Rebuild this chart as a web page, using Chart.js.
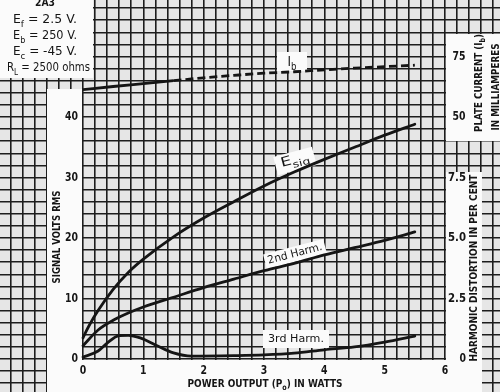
<!DOCTYPE html>
<html><head><meta charset="utf-8">
<script src="https://cdn.jsdelivr.net/npm/chart.js@4.4.0/dist/chart.umd.min.js"></script>
<style>html,body{margin:0;padding:0;background:#fff;overflow:hidden}canvas{display:block}</style>
</head><body>
<canvas id="c" width="500" height="392"></canvas>
<script>
// ---- data ----
const esigW     = [0, 0.1, 0.25, 0.5, 0.75, 1, 1.5, 2, 2.5, 3, 3.5, 4, 4.5, 5, 5.5];
const esigVolts = [3.5, 5.5, 8, 11.5, 14.3, 16.5, 20.2, 23.3, 26, 28.6, 30.9, 33, 35, 37, 38.8];
const harm2W    = [0, 0.25, 0.5, 0.75, 1, 1.5, 2, 2.5, 3, 3.5, 4, 4.5, 5, 5.5];
const harm2Pct  = [0.55, 1.2, 1.6, 1.9, 2.15, 2.55, 2.95, 3.3, 3.65, 3.95, 4.3, 4.6, 4.9, 5.25];
const harm3W    = [0, 0.25, 0.4, 0.6, 0.75, 0.95, 1.2, 1.5, 1.8, 2.5, 3, 3.5, 4, 4.5, 5, 5.5];
const harm3Pct  = [0.08, 0.33, 0.66, 0.97, 0.98, 0.87, 0.58, 0.25, 0.12, 0.14, 0.17, 0.24, 0.38, 0.5, 0.7, 0.95];
const ibW       = [0, 0.5, 1, 1.5, 2, 2.5, 3, 3.5, 4, 4.5, 5, 5.5];
const ibMa      = [61.3, 62.6, 63.8, 65.0, 66.2, 67.2, 68.1, 68.7, 69.5, 70.2, 70.8, 71.4];
const xTickVals    = [0, 1, 2, 3, 4, 5, 6];
const voltTickVals = [0, 10, 20, 30, 40];
const distTickVals = [0, 2.5, 5, 7.5];
const distTickText = ['0', '2.5', '5.0', '7.5'];
const ibTickVals   = [50, 75];
const specLines = [
  [['E'], ['f', 1], [' = 2.5 V.']],
  [['E'], ['b', 1], [' = 250 V.']],
  [['E'], ['c', 1], [' = -45 V.']],
  [['R'], ['L', 1], [' = 2500 ohms']]
];

// ---- scale ranges (all axes share the same pixel grid) ----
const X_MIN = -1.3758, X_MAX = 6.912;
const V_MIN = -5.455, V_MAX = 59.34;
const D_MIN = V_MIN / 4, D_MAX = V_MAX / 4;
const I_MIN = 50 + (V_MIN - 40) * 2.5, I_MAX = 50 + (V_MAX - 40) * 2.5;

function steps(a, b, s) { const out = []; for (let v = a; v <= b + 1e-9; v += s) out.push(Math.round(v * 1000) / 1000); return out; }
function pts(xs, ys) { return xs.map((x, i) => ({ x: x, y: ys[i] })); }

const INK = '#151515';
const FAM = '"DejaVu Sans", "Liberation Sans", sans-serif';

function drawRuns(ctx, runs, x, y, o) {
  const size = o.size || 11, weight = o.bold ? 'bold ' : '';
  const parts = runs.map(r => ({ t: r[0], sub: !!r[1] }));
  let total = 0;
  parts.forEach(p => {
    ctx.font = weight + (p.sub ? size * 0.72 : size) + 'px ' + (o.family || FAM);
    p.w = ctx.measureText(p.t).width; total += p.w;
  });
  const sx = o.width ? o.width / total : 1;
  ctx.save();
  ctx.translate(x, y);
  if (o.angle) ctx.rotate(o.angle * Math.PI / 180);
  ctx.scale(sx, 1);
  let cx = o.align === 'left' ? 0 : (o.align === 'right' ? -total : -total / 2);
  ctx.fillStyle = INK; ctx.textBaseline = 'middle'; ctx.textAlign = 'left';
  parts.forEach(p => {
    ctx.font = weight + (p.sub ? size * 0.72 : size) + 'px ' + (o.family || FAM);
    ctx.fillText(p.t, cx, p.sub ? size * 0.38 : 0);
    cx += p.w;
  });
  ctx.restore();
}

const PAPER = '#fbfbfb';
function whiteRect(ctx, x0, y0, x1, y1) { ctx.fillStyle = PAPER; ctx.fillRect(x0, y0, x1 - x0, y1 - y0); }
function whiteRot(ctx, cx, cy, w, h, ang) {
  ctx.save(); ctx.translate(cx, cy); ctx.rotate(ang * Math.PI / 180);
  ctx.fillStyle = PAPER; ctx.fillRect(-w / 2, -h / 2, w, h); ctx.restore();
}

const decor = {
  id: 'decor',
  beforeDraw(chart) {
    const c = chart.ctx; c.save(); c.fillStyle = '#e6e6e6'; c.fillRect(0, 0, chart.width, chart.height); c.restore();
  },
  beforeDatasetsDraw(chart) {
    const c = chart.ctx, s = chart.scales;
    const x0 = s.x.getPixelForValue(0), x6 = s.x.getPixelForValue(6);
    const yb = s.y.getPixelForValue(0);
    c.save();
    whiteRect(c, 0, 0, 93, 78);                  // spec box
    whiteRect(c, x0 - 36, 89, x0 - 1, 392);      // left label strip
    whiteRect(c, x0 - 36, yb + 1, x6 + 37, 392); // bottom strip
    whiteRect(c, x6 + 1, 172, x6 + 37, 392);     // right distortion strip
    whiteRect(c, x6 + 1, 34, 500, 141);          // plate current box
    whiteRect(c, 277, 52, 307, 71);              // Ib label
    whiteRect(c, 263, 330, 329, 348);            // 3rd harm label
    whiteRot(c, 295, 161, 40, 19, -15);          // Esig label
    whiteRot(c, 295, 254, 62, 15, -14.5);        // 2nd harm label
    c.restore();
  },
  afterDraw(chart) {
    const c = chart.ctx, s = chart.scales;
    c.save();
    // spec box
    drawRuns(c, [['2A3']], 45, 3.5, { size: 10, bold: true, width: 20 });
    specLines.forEach((runs, i) => {
      const last = i === 3;
      drawRuns(c, runs, last ? 7 : 13, 20 + i * 16, { size: 13, width: last ? 83 : 64, align: 'left' });
    });
    // left ticks
    voltTickVals.forEach(v => drawRuns(c, [[String(v)]], 78, s.y.getPixelForValue(v), { size: 12, bold: true, width: String(v).length * 6.5, align: 'right' }));
    // x ticks
    xTickVals.forEach(v => drawRuns(c, [[String(v)]], s.x.getPixelForValue(v), 371, { size: 12, bold: true, width: 6.5 }));
    // right ticks
    distTickVals.forEach((v, i) => {
      const t = distTickText[i];
      drawRuns(c, [[t]], 466, s.yDist.getPixelForValue(v), { size: 12, bold: true, width: t.length === 1 ? 6.5 : 18, align: 'right' });
    });
    ibTickVals.forEach(v => drawRuns(c, [[String(v)]], 459, s.yIb.getPixelForValue(v), { size: 12, bold: true, width: 13 }));
    // axis titles
    drawRuns(c, [['SIGNAL VOLTS RMS']], 57, 237, { size: 11, bold: true, width: 93, angle: -90 });
    drawRuns(c, [['POWER OUTPUT (P'], ['o', 1], [') IN WATTS']], 265, 384, { size: 11, bold: true, width: 155 });
    drawRuns(c, [['PLATE CURRENT (I'], ['b', 1], [')']], 479, 83, { size: 11, bold: true, width: 98, angle: -90 });
    drawRuns(c, [['IN MILLIAMPERES']], 496, 87, { size: 11, bold: true, width: 87, angle: -90 });
    drawRuns(c, [['HARMONIC DISTORTION IN PER CENT']], 474, 268, { size: 11, bold: true, width: 187, angle: -90 });
    // curve labels
    drawRuns(c, [['E'], ['sig', 1]], 295, 160, { size: 13, width: 29, angle: -15 });
    drawRuns(c, [['2nd Harm.']], 295, 254, { size: 11, width: 56, angle: -14.5 });
    drawRuns(c, [['3rd Harm.']], 296, 339, { size: 11, width: 56 });
    drawRuns(c, [['I'], ['b', 1]], 292, 62, { size: 14, width: 9 });
    c.restore();
  }
};

const lineStyle = { borderColor: INK, borderWidth: 2.8, pointRadius: 0, fill: false, cubicInterpolationMode: 'monotone', borderCapStyle: 'round' };
const gridOpts = { color: '#1d1d1d', lineWidth: 1.6, drawTicks: false };

new Chart(document.getElementById('c').getContext('2d'), {
  type: 'line',
  data: {
    datasets: [
      Object.assign({ label: 'Esig', data: pts(esigW, esigVolts), yAxisID: 'y' }, lineStyle),
      Object.assign({ label: '2nd Harm.', data: pts(harm2W, harm2Pct), yAxisID: 'yDist' }, lineStyle),
      Object.assign({ label: '3rd Harm.', data: pts(harm3W, harm3Pct), yAxisID: 'yDist' }, lineStyle),
      Object.assign({ label: 'Ib', data: pts(ibW, ibMa), yAxisID: 'yIb',
        segment: { borderDash: ctx => ctx.p0.parsed.x >= 1.5 ? [8, 4] : undefined } }, lineStyle, { borderCapStyle: 'butt' })
    ]
  },
  options: {
    responsive: false, animation: false, events: [],
    layout: { padding: 0 },
    plugins: { legend: { display: false }, tooltip: { enabled: false } },
    scales: {
      x: { type: 'linear', min: X_MIN, max: X_MAX, grid: gridOpts, border: { display: false }, ticks: { display: false },
           afterBuildTicks: a => { a.ticks = steps(-1.2, 6.8, 0.2).map(v => ({ value: v })); },
           afterFit: a => { a.height = 0; } },
      y: { type: 'linear', min: V_MIN, max: V_MAX, grid: gridOpts, border: { display: false }, ticks: { display: false },
           afterBuildTicks: a => { a.ticks = steps(-4, 58, 2).map(v => ({ value: v })); },
           afterFit: a => { a.width = 0; } },
      yDist: { type: 'linear', display: false, min: D_MIN, max: D_MAX },
      yIb: { type: 'linear', display: false, min: I_MIN, max: I_MAX }
    }
  },
  plugins: [decor]
});
</script>
</body></html>
